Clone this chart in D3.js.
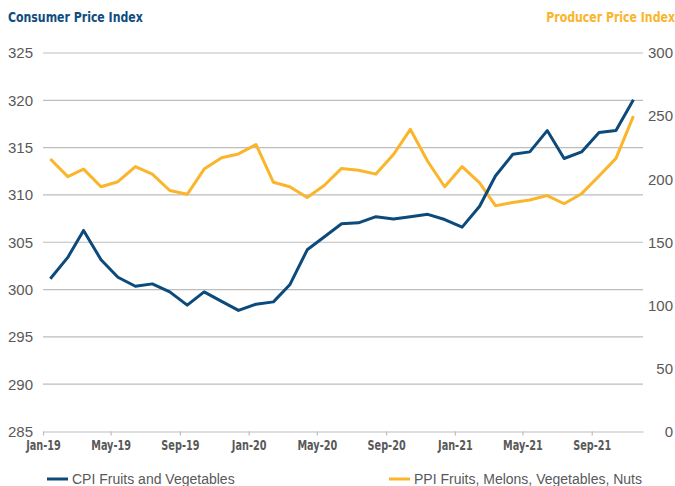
<!DOCTYPE html>
<html>
<head>
<meta charset="utf-8">
<script src="https://cdn.jsdelivr.net/npm/d3@7"></script>
<style>
	body { margin: 0; background: #fff; }
	svg { display: block; }
	.narrow { font-family: "DejaVu Sans Condensed", "Liberation Sans Narrow", sans-serif; }
	.reg { font-family: "Liberation Sans", Arial, sans-serif; }
</style>
</head>
<body>
<div id="chart"></div>
<script>

// monthly values, Jan-19 .. Nov-21
var cpi = [301.15, 303.4, 306.25, 303.15, 301.3, 300.35, 300.6, 299.75, 298.35, 299.75, 298.75, 297.8,
	298.45, 298.7, 300.5, 304.2, 305.55, 306.95, 307.05, 307.7, 307.45, 307.7, 307.95, 307.4,
	306.6, 308.8, 312.0, 314.3, 314.55, 316.8, 313.85, 314.55, 316.6, 316.8, 320.05];
var ppi = [216, 202, 208, 194, 198, 210, 204, 191, 188, 208, 217, 220,
	227.5, 197.5, 194, 185.5, 195, 208.5, 207, 204, 219.5, 239.5, 214, 194,
	210, 197, 179, 181.5, 183.5, 187, 180.5, 188.5, 202.5, 216.5, 250];
var tickLabels = ["Jan-19", "May-19", "Sep-19", "Jan-20", "May-20", "Sep-20", "Jan-21", "May-21", "Sep-21"];
var leftTicks = [285, 290, 295, 300, 305, 310, 315, 320, 325];
var rightTicks = [0, 50, 100, 150, 200, 250, 300];

var W = 675, H = 486;
var [ mT, mR, mB, mL ] = [ 53, 32, 54, 43 ];
var blue = "#0b4a7b", gold = "#fbb52b", grey = "#595959";

var svg = d3.select("#chart").append("svg").attr("width", W).attr("height", H);

var months = cpi.map((d, i) => new Date(Date.UTC(2019, i, 14)));

var x = d3.scaleUtc()
	.domain([ new Date(Date.UTC(2019, 0, 1)), new Date(Date.UTC(2021, 11, 1)) ])
	.range([ mL, W - mR ]);
var yL = d3.scaleLinear([285, 325], [ H - mB - 0.5, mT ]);
var yR = d3.scaleLinear([0, 300], [ H - mB - 0.5, mT ]);

// grid
svg.append("g")
	.selectAll("line")
	.data(leftTicks.slice(1))
	.join("line")
	.attr("x1", mL).attr("x2", W - mR)
	.attr("y1", d => yL(d)).attr("y2", d => yL(d))
	.attr("stroke", "#bdbdbd").attr("stroke-width", 1.2);

// x axis
var tickDates = tickLabels.map((t, i) => new Date(Date.UTC(2019, i * 4, 1)));
var xAxis = svg.append("g")
	.attr("transform", `translate(0, ${yL(285)})`)
	.call(d3.axisBottom(x).tickValues(tickDates).tickSize(4).tickSizeOuter(0)
		.tickFormat((d, i) => tickLabels[i]));
xAxis.select(".domain").attr("stroke", "#bdbdbd").attr("stroke-width", 1.2);
xAxis.selectAll(".tick line").attr("stroke", "#bdbdbd").attr("stroke-width", 1.2);
xAxis.selectAll(".tick text")
	.attr("class", "narrow")
	.attr("y", 9)
	.attr("transform", "scale(0.8,1)")
	.attr("fill", grey)
	.attr("font-size", 13.5)
	.attr("font-weight", "bold");

// y labels
svg.append("g").selectAll("text")
	.data(leftTicks)
	.join("text")
	.attr("class", "reg")
	.attr("x", 8).attr("y", d => yL(d))
	.attr("dy", "0.36em")
	.attr("fill", grey).attr("font-size", 15)
	.text(d => d);

svg.append("g").selectAll("text")
	.data(rightTicks)
	.join("text")
	.attr("class", "reg")
	.attr("x", 673).attr("y", d => yR(d))
	.attr("dy", "0.36em")
	.attr("text-anchor", "end")
	.attr("fill", grey).attr("font-size", 15)
	.text(d => d);

// titles
svg.append("text").attr("class", "narrow")
	.attr("transform", "translate(8,22) scale(0.87,1)")
	.attr("fill", "#0f4d80").attr("font-size", 14).attr("font-weight", "bold")
	.text("Consumer Price Index");
svg.append("text").attr("class", "narrow")
	.attr("transform", "translate(675,22) scale(0.87,1)")
	.attr("text-anchor", "end")
	.attr("fill", gold).attr("font-size", 14).attr("font-weight", "bold")
	.text("Producer Price Index");

// lines
svg.append("path")
	.datum(ppi)
	.attr("fill", "none").attr("stroke", gold).attr("stroke-width", 3)
	.attr("stroke-linejoin", "round")
	.attr("d", d3.line().x((d, i) => x(months[i])).y(d => yR(d)));

svg.append("path")
	.datum(cpi)
	.attr("fill", "none").attr("stroke", blue).attr("stroke-width", 3)
	.attr("stroke-linejoin", "round")
	.attr("d", d3.line().x((d, i) => x(months[i])).y(d => yL(d)));

// legend
var legend = [
	{ name: "CPI Fruits and Vegetables", color: blue, x: 47 },
	{ name: "PPI Fruits, Melons, Vegetables, Nuts", color: gold, x: 389 }
];
var lg = svg.append("g").selectAll("g")
	.data(legend)
	.join("g")
	.attr("transform", d => `translate(${d.x}, 479)`);
lg.append("line").attr("x1", 0).attr("x2", 21)
	.attr("stroke", d => d.color).attr("stroke-width", 3);
lg.append("text").attr("class", "reg")
	.attr("x", 25).attr("dy", "0.36em")
	.attr("fill", grey).attr("font-size", 14)
	.text(d => d.name);

</script>
</body>
</html>
